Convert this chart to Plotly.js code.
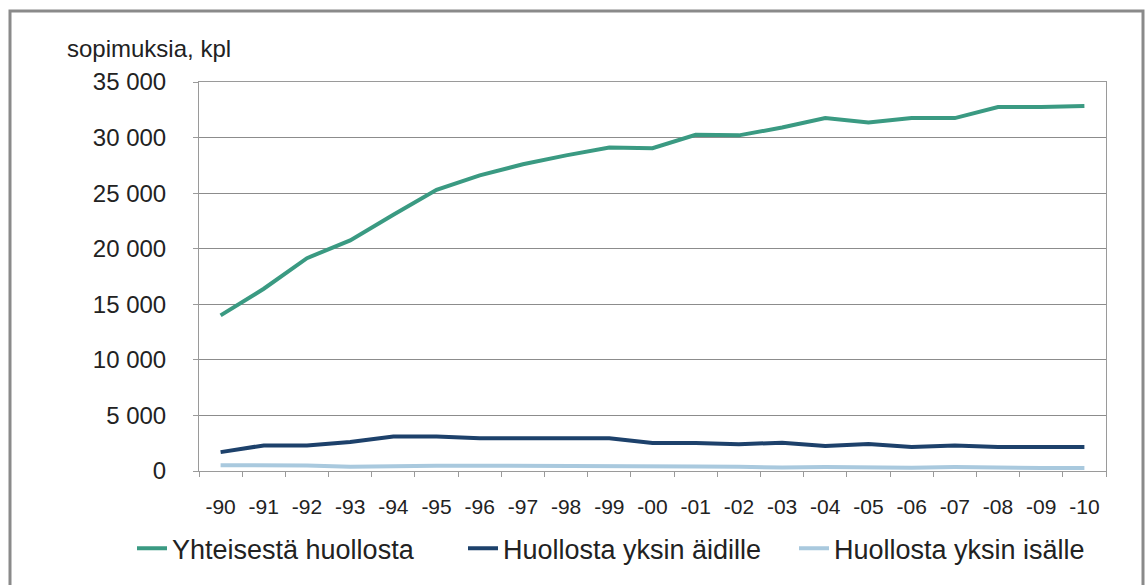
<!DOCTYPE html>
<html>
<head>
<meta charset="utf-8">
<script src="https://cdn.plot.ly/plotly-3.0.1.min.js"></script>
<style>
  html, body { margin: 0; padding: 0; background: #fff; }
  #chart { width: 1146px; height: 585px; }
</style>
</head>
<body>
<div id="chart"></div>
<script>
const years = ["-90","-91","-92","-93","-94","-95","-96","-97","-98","-99","-00","-01","-02","-03","-04","-05","-06","-07","-08","-09","-10"];
const yhteisesta = [14000,16400,19150,20750,23050,25300,26600,27600,28400,29100,29050,30250,30200,30900,31750,31350,31750,31750,32750,32750,32850];
const aidille = [1700,2300,2300,2600,3100,3100,2950,2950,2950,2950,2520,2520,2400,2550,2250,2430,2150,2300,2150,2150,2150];
const isalle = [520,520,500,380,460,480,480,480,470,420,400,400,380,320,360,300,300,350,280,280,280];
const seriesNames = ["Yhteisestä huollosta","Huollosta yksin äidille","Huollosta yksin isälle"];
const yTitle = "sopimuksia, kpl";

const colors = ["#3a9a82","#1d416b","#a9c9de"];
const font = "Arial, 'Liberation Sans', sans-serif";

const traces = [yhteisesta, aidille, isalle].map((vals, i) => ({
  type: "scatter", mode: "lines", x: years, y: vals, name: seriesNames[i],
  line: {color: colors[i], width: 4}, hoverinfo: "skip"
}));

const L = 199, T = 82, W = 907, H = 395;
const px = v => (v - L) / W;
const py = v => (T + H - v) / H;

const layout = {
  width: 1146, height: 585,
  margin: {l: L, r: 1146 - L - W, t: T, b: 585 - T - H, pad: 0},
  paper_bgcolor: "#ffffff", plot_bgcolor: "#ffffff",
  separators: ", ",
  font: {family: font, color: "#222"},
  showlegend: true,
  legend: {
    orientation: "h", x: px(132), xanchor: "left", y: py(556), yanchor: "middle",
    font: {size: 27, family: font, color: "#222"}, tracegroupgap: 0,
    entrywidth: 286, entrywidthmode: "pixels", bgcolor: "rgba(0,0,0,0)"
  },
  xaxis: {
    type: "category", range: [-0.5, years.length - 0.5], showgrid: false, zeroline: false,
    showline: true, linecolor: "#9a9a9a", linewidth: 1, mirror: true,
    ticks: "outside", ticklen: 5, tickcolor: "#9a9a9a", tickson: "boundaries",
    tickfont: {size: 21, family: font, color: "#222"}, ticklabelstandoff: 17,
    fixedrange: true
  },
  yaxis: {
    range: [0, 35000], dtick: 5000, tickformat: ",d",
    showgrid: true, gridcolor: "#8c8c8c", gridwidth: 1, zeroline: false,
    showline: true, linecolor: "#9a9a9a", linewidth: 1, mirror: true,
    ticks: "outside", ticklen: 5, tickcolor: "#9a9a9a",
    tickfont: {size: 24, family: font, color: "#222"}, ticklabelstandoff: 22,
    fixedrange: true
  },
  annotations: [{
    text: yTitle, xref: "paper", yref: "paper", x: px(65), y: py(48),
    xanchor: "left", yanchor: "middle", showarrow: false,
    font: {size: 24, family: font, color: "#222"}
  }],
  shapes: [{
    type: "rect", xref: "paper", yref: "paper",
    x0: px(10), x1: px(1143), y0: py(620), y1: py(10),
    line: {color: "#8a8a8a", width: 3}, layer: "below"
  }]
};

Plotly.newPlot("chart", traces, layout, {displayModeBar: false, staticPlot: true});
</script>
</body>
</html>
